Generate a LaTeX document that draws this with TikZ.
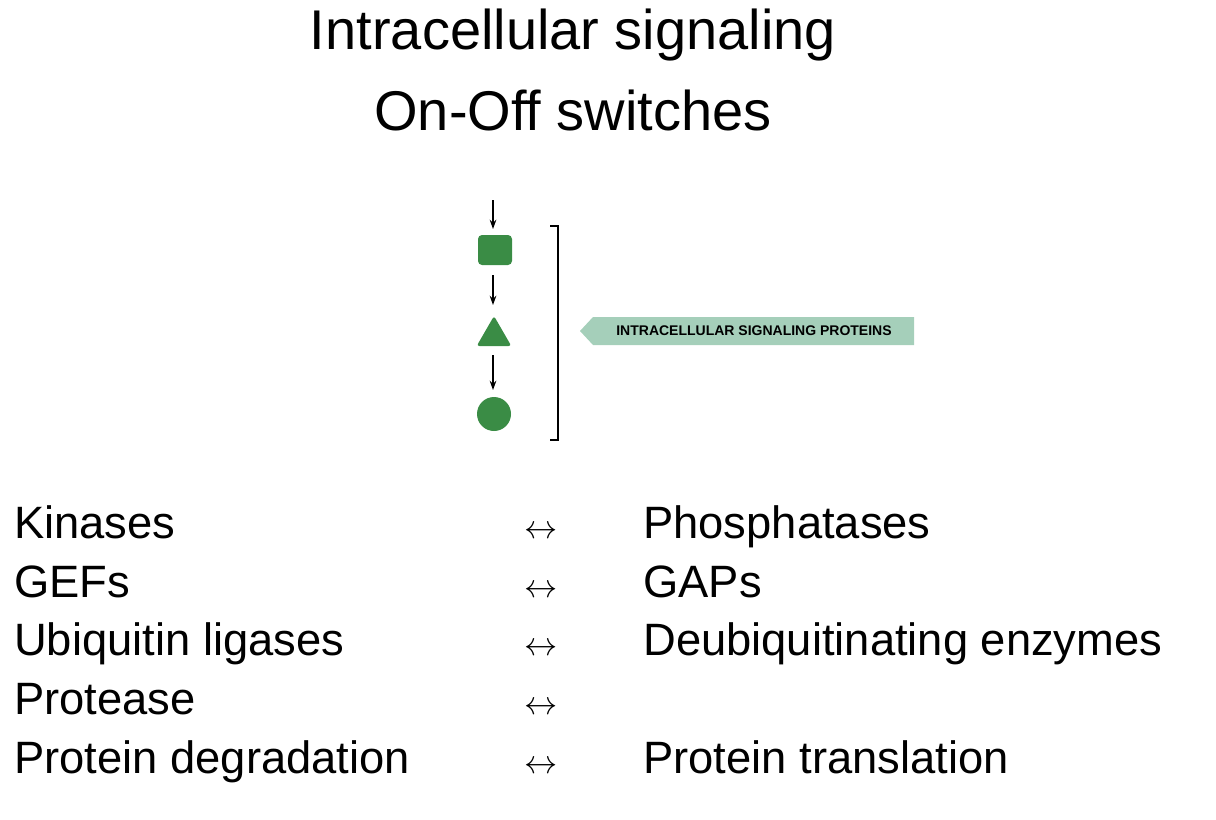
\documentclass[tikz,border=0pt]{standalone}
\usepackage{fontspec}
\setmainfont{Liberation Sans}
\usetikzlibrary{arrows.meta,shapes.geometric}
\definecolor{pgreen}{HTML}{3A8C45}
\definecolor{banner}{HTML}{A5CFBA}
\begin{document}
\begin{tikzpicture}[x=0.75pt,y=-0.75pt,
  title/.style={font=\fontsize{42}{48}\selectfont,anchor=center},
  item/.style={font=\fontsize{34}{40}\selectfont,anchor=base west,inner sep=0},
  dbl/.style={font=\fontsize{34}{40}\selectfont,anchor=base,inner sep=0},
  flow/.style={-{Stealth[length=7pt,width=5pt]},line width=1pt},
  prot/.style={fill=pgreen,draw=none}]
\useasboundingbox (0,0) rectangle (1216,820);
\node[title] (t1) at (573,35) {Intracellular signaling};
\node[title] (t2) at (573,110) {On-Off switches};
\coordinate (top) at (493,200);
\node[prot,rounded corners=3pt,inner sep=0,minimum width=25.5pt,minimum height=22.5pt] (sq) at (495,250) {};
\node[prot,regular polygon,regular polygon sides=3,rounded corners=2pt,inner sep=0,minimum size=30pt] (tri) at (494,336) {};
\node[prot,circle,inner sep=0,minimum size=25.5pt] (ci) at (494,414) {};
\draw[flow] (top) -- (493,229);
\draw[flow] (493,275) -- (493,305);
\draw[flow] (493,355) -- (493,390);
\draw[line width=1pt] (550,226) -- (558,226) -- (558,440) -- (550,440);
\fill[banner] (580,331) -- (593,317) -- (914,317) -- (914,345) -- (593,345) -- cycle;
\node[font=\bfseries\fontsize{10.5}{12}\selectfont,anchor=center,inner sep=0] (lab) at (754,331) {INTRACELLULAR SIGNALING PROTEINS};
\foreach \y/\a/\b [count=\i] in {538/Kinases/Phosphatases,597/GEFs/GAPs,655/Ubiquitin ligases/Deubiquitinating enzymes,714/Protease/,773/Protein degradation/Protein translation}{
  \node[item] (l\i) at (14,\y) {\a};
  \node[dbl] (m\i) at (541,\y) {$\leftrightarrow$};
  \node[item] (r\i) at (643,\y) {\b};
}
\end{tikzpicture}
\end{document}
